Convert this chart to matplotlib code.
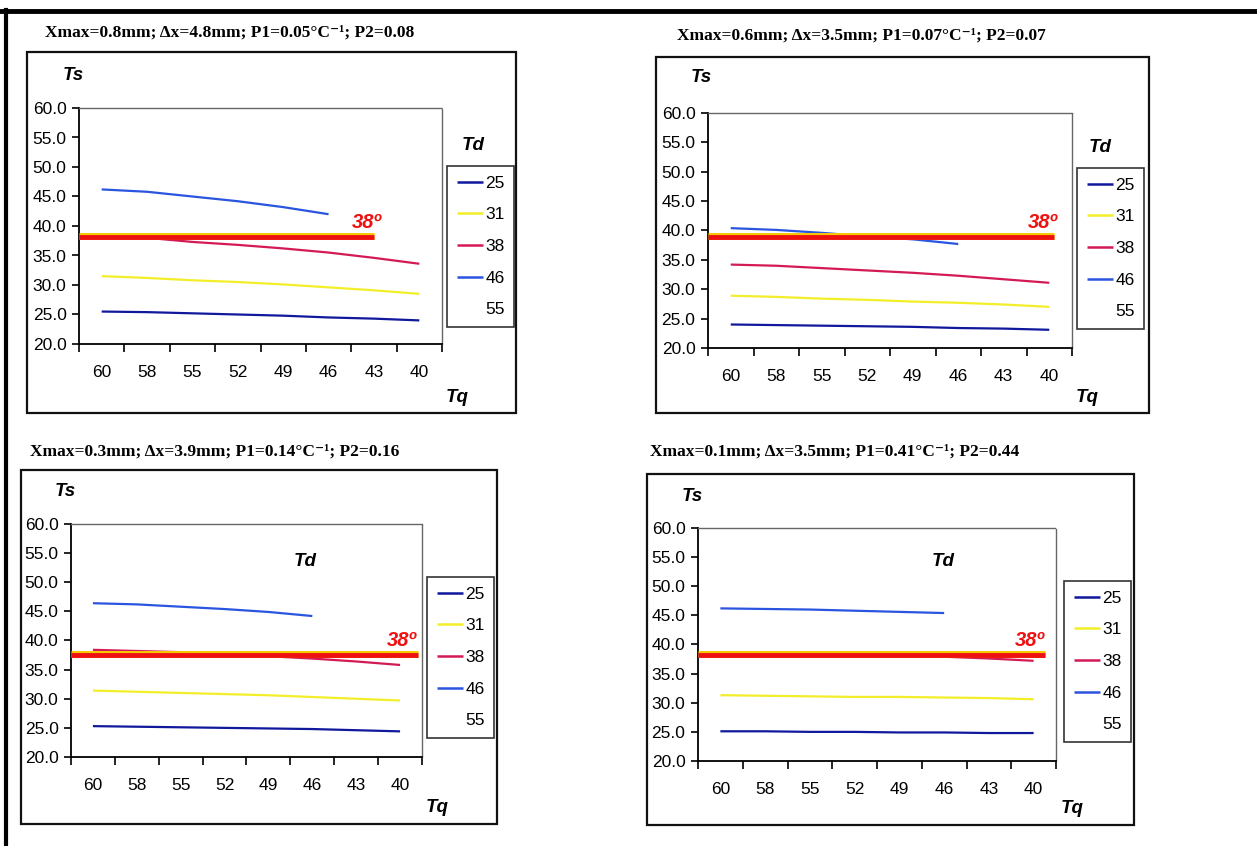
import matplotlib
matplotlib.use("Agg")
import matplotlib.pyplot as plt
from matplotlib.lines import Line2D
from matplotlib.patches import Rectangle

W, H = 1257, 846

tq_labels = ["60", "58", "55", "52", "49", "46", "43", "40"]
td_labels = ["25", "31", "38", "46", "55"]
td_colors = ["#10189c", "#f2ee2a", "#d41a55", "#2a55e0", "#ffffff"]

titles = [
    "Xmax=0.8mm; \u0394x=4.8mm; P1=0.05\u00b0C\u207b\u00b9; P2=0.08",
    "Xmax=0.6mm; \u0394x=3.5mm; P1=0.07\u00b0C\u207b\u00b9; P2=0.07",
    "Xmax=0.3mm; \u0394x=3.9mm; P1=0.14\u00b0C\u207b\u00b9; P2=0.16",
    "Xmax=0.1mm; \u0394x=3.5mm; P1=0.41\u00b0C\u207b\u00b9; P2=0.44",
]

# Panel A (Xmax=0.8)
a_td25 = [25.5, 25.4, 25.2, 25.0, 24.8, 24.5, 24.3, 24.0]
a_td31 = [31.5, 31.2, 30.8, 30.5, 30.1, 29.6, 29.1, 28.5]
a_td38 = [38.3, 38.0, 37.3, 36.8, 36.2, 35.5, 34.6, 33.6]
a_td46 = [46.2, 45.8, 45.0, 44.2, 43.2, 42.0]
a_td55 = [55.2, 55.0, 54.8]
# Panel B (Xmax=0.6)
b_td25 = [24.0, 23.9, 23.8, 23.7, 23.6, 23.4, 23.3, 23.1]
b_td31 = [28.9, 28.7, 28.4, 28.2, 27.9, 27.7, 27.4, 27.0]
b_td38 = [34.2, 34.0, 33.6, 33.2, 32.8, 32.3, 31.7, 31.1]
b_td46 = [40.4, 40.1, 39.6, 39.0, 38.5, 37.7]
b_td55 = [47.0, 46.8, 46.6]
# Panel C (Xmax=0.3)
c_td25 = [25.3, 25.2, 25.1, 25.0, 24.9, 24.8, 24.6, 24.4]
c_td31 = [31.4, 31.2, 31.0, 30.8, 30.6, 30.3, 30.0, 29.7]
c_td38 = [38.4, 38.2, 38.0, 37.6, 37.3, 36.9, 36.4, 35.8]
c_td46 = [46.4, 46.2, 45.8, 45.4, 44.9, 44.2]
c_td55 = [55.3, 55.2, 55.0]
# Panel D (Xmax=0.1)
d_td25 = [25.1, 25.1, 25.0, 25.0, 24.9, 24.9, 24.8, 24.8]
d_td31 = [31.3, 31.2, 31.1, 31.0, 31.0, 30.9, 30.8, 30.6]
d_td38 = [38.3, 38.3, 38.2, 38.1, 38.0, 37.9, 37.6, 37.2]
d_td46 = [46.2, 46.1, 46.0, 45.8, 45.6, 45.4]
d_td55 = [55.2, 55.1, 55.0]

panel_series = [
    [a_td25, a_td31, a_td38, a_td46, a_td55],
    [b_td25, b_td31, b_td38, b_td46, b_td55],
    [c_td25, c_td31, c_td38, c_td46, c_td55],
    [d_td25, d_td31, d_td38, d_td46, d_td55],
]

ref_level = [38.2, 38.9, 37.6, 38.3]      # the 38 degree reference line
ref_end = [6.0, 7.1, 7.4, 7.25]           # category index where it stops
ref_label = "38\u00ba"

# Layout (pixels)
layouts = [
    dict(box=(27, 52, 516, 413), title=(45, 33), ax=(79, 108, 442, 344),
         ts=(63, 75), td=(473, 146), leg=(447, 166), tq=(446, 397), ref_txt=(367, 223)),
    dict(box=(656, 57, 1149, 413), title=(677, 36), ax=(708, 113, 1072, 348),
         ts=(691, 78), td=(1100, 147), leg=(1077, 168), tq=(1076, 397), ref_txt=(1043, 222)),
    dict(box=(21, 470, 497, 824), title=(30, 452), ax=(71, 524, 422, 757),
         ts=(55, 491), td=(305, 562), leg=(427, 577), tq=(426, 807), ref_txt=(402, 640)),
    dict(box=(647, 474, 1134, 825), title=(650, 452), ax=(698, 528, 1056, 761),
         ts=(682, 496), td=(943, 562), leg=(1064, 581), tq=(1061, 808), ref_txt=(1030, 640)),
]

plt.rcParams["font.family"] = ["Liberation Sans", "DejaVu Sans"]

fig = plt.figure(figsize=(W / 100, H / 100), dpi=100)
fig.patch.set_facecolor("white")


def fx(x):
    return x / W


def fy(y):
    return 1 - y / H


# scanned page border
fig.add_artist(Line2D([fx(0), fx(W)], [fy(11), fy(11)], color="black", lw=3.5))
fig.add_artist(Line2D([fx(6), fx(6)], [fy(10), fy(H)], color="black", lw=3))

for i, lay in enumerate(layouts):
    x0, y0, x1, y1 = lay["box"]
    fig.add_artist(Rectangle((fx(x0), fy(y1)), fx(x1) - fx(x0), fy(y0) - fy(y1),
                             transform=fig.transFigure, fill=False,
                             edgecolor="#111111", lw=1.6))
    fig.text(fx(lay["title"][0]), fy(lay["title"][1]), titles[i],
             family=["Liberation Serif", "DejaVu Serif"], fontweight="bold",
             fontsize=12.5, ha="left", va="center")

    ax0, ay0, ax1, ay1 = lay["ax"]
    ax = fig.add_axes([fx(ax0), fy(ay1), fx(ax1) - fx(ax0), fy(ay0) - fy(ay1)])
    ax.set_facecolor("white")
    xs = list(range(len(tq_labels)))
    handles = []
    for s, (vals, col) in enumerate(zip(panel_series[i], td_colors)):
        ln, = ax.plot(xs[:len(vals)], vals, color=col, lw=1.6, solid_capstyle="butt")
        handles.append(ln)

    lev = ref_level[i]
    ax.plot([-0.5, ref_end[i]], [lev + 0.15, lev + 0.15], color="#f5c800", lw=5,
            solid_capstyle="butt", zorder=5)
    ax.plot([-0.5, ref_end[i]], [lev - 0.05, lev - 0.05], color="#ee1111", lw=3.5,
            solid_capstyle="butt", zorder=6)

    ax.set_xlim(-0.5, 7.5)
    ax.set_ylim(20, 60)
    ax.set_yticks([20, 25, 30, 35, 40, 45, 50, 55, 60])
    ax.set_yticklabels([f"{v:.1f}" for v in [20, 25, 30, 35, 40, 45, 50, 55, 60]])
    ax.set_xticks([k - 0.5 for k in range(9)])
    ax.set_xticklabels([])
    ax.set_xticks(xs, minor=True)
    ax.set_xticklabels(tq_labels, minor=True)
    ax.tick_params(axis="x", which="major", direction="out", length=6, width=1.2)
    ax.tick_params(axis="x", which="minor", length=0, pad=15, labelsize=12.5)
    ax.tick_params(axis="y", direction="out", length=5, width=1.2, pad=4, labelsize=12.5)

    for side in ["left", "bottom"]:
        ax.spines[side].set_color("black")
        ax.spines[side].set_linewidth(1.3)
    for side in ["top", "right"]:
        ax.spines[side].set_color("#666666")
        ax.spines[side].set_linestyle((0, (1, 1)))
        ax.spines[side].set_linewidth(1.0)

    bold_it = dict(fontweight="bold", fontstyle="italic", fontsize=13.5)
    fig.text(fx(lay["ts"][0]), fy(lay["ts"][1]), "Ts", ha="left", va="center", **bold_it)
    fig.text(fx(lay["td"][0]), fy(lay["td"][1]), "Td", ha="center", va="center", **bold_it)
    fig.text(fx(lay["tq"][0]), fy(lay["tq"][1]), "Tq", ha="left", va="center", **bold_it)
    fig.text(fx(lay["ref_txt"][0]), fy(lay["ref_txt"][1]), ref_label, color="#ee1111",
             ha="center", va="center", fontweight="bold", fontstyle="italic", fontsize=14.5)

    leg = ax.legend(handles, td_labels, loc="upper left",
                    bbox_to_anchor=(fx(lay["leg"][0]), fy(lay["leg"][1])),
                    bbox_transform=fig.transFigure, fontsize=12.5, frameon=True,
                    fancybox=False, labelspacing=0.95, handlelength=1.5,
                    handletextpad=0.15, borderpad=0.55, borderaxespad=0)
    leg.get_frame().set_edgecolor("black")
    leg.get_frame().set_linewidth(1.2)
    for lh in leg.get_lines():
        lh.set_linewidth(1.8)

fig.savefig("out.png", dpi=100, facecolor="white")
